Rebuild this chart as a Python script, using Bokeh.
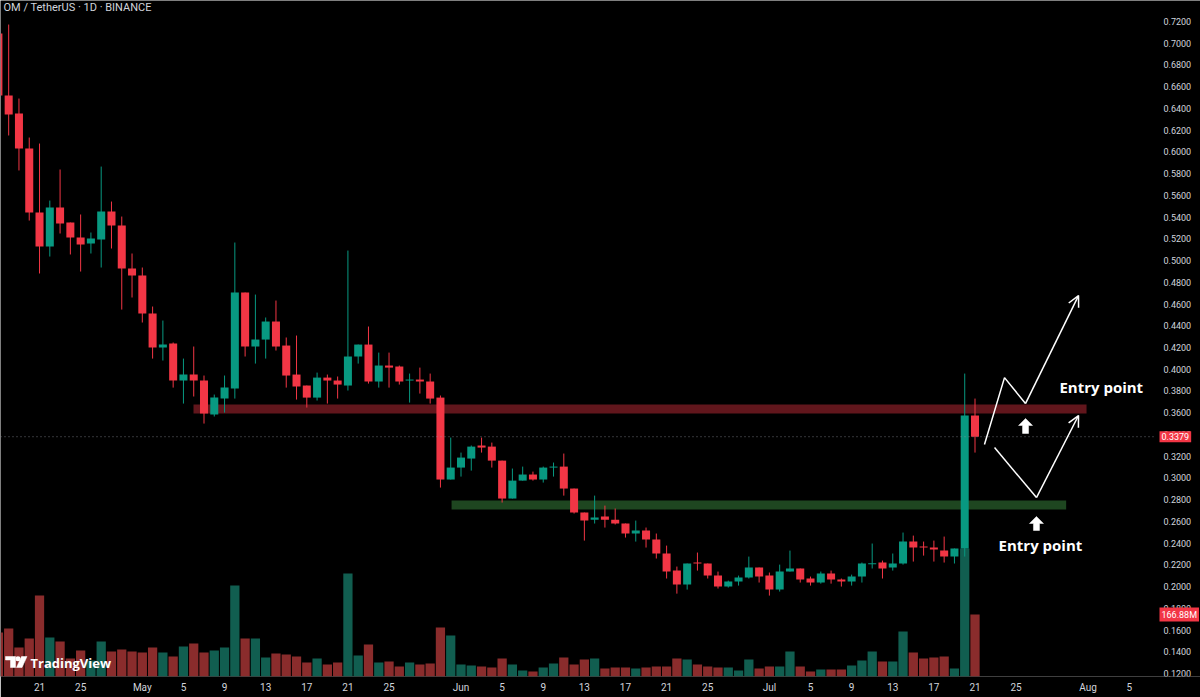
import numpy as np
import pandas as pd
from bokeh.plotting import figure
from bokeh.models import (Range1d, FixedTicker, PrintfTickFormatter, Label,
                          Arrow, OpenHead, ColumnDataSource)
from bokeh.embed import file_html
from bokeh.resources import INLINE

# ---------------- data ----------------
first_date = "2025-04-17"
opens = [0.7090, 0.6519, 0.6353, 0.6031, 0.5442, 0.5129, 0.5488, 0.5350, 0.5212, 0.5157,
         0.5194, 0.5451, 0.5322, 0.4927, 0.4862, 0.4512, 0.4200, 0.4236, 0.3896, 0.3951,
         0.3896, 0.3583, 0.3730, 0.3822, 0.4706, 0.4209, 0.4273, 0.4439, 0.4218, 0.3951,
         0.3850, 0.3739, 0.3923, 0.3896, 0.3850, 0.4117, 0.4227, 0.3887, 0.4034, 0.4025,
         0.3896, 0.3905, 0.3887, 0.3739, 0.2985, 0.3095, 0.3178, 0.3298, 0.3288, 0.3159,
         0.2810, 0.2975, 0.3031, 0.2985, 0.3095, 0.3104, 0.2902, 0.2681, 0.2616, 0.2644,
         0.2616, 0.2580, 0.2488, 0.2515, 0.2432, 0.2304, 0.2147, 0.2018, 0.2221, 0.2212,
         0.2101, 0.2000, 0.2046, 0.2083, 0.2175, 0.2101, 0.1972, 0.2138, 0.2166, 0.2074,
         0.2037, 0.2120, 0.2064, 0.2046, 0.2092, 0.2207, 0.2221, 0.2175, 0.2212, 0.2414,
         0.2368, 0.2359, 0.2331, 0.2276, 0.2350, 0.3574]
highs = [0.7117, 0.7172, 0.6491, 0.6132, 0.6077, 0.5552, 0.5838, 0.5350, 0.5424, 0.5258,
         0.5865, 0.5543, 0.5405, 0.5065, 0.4936, 0.4577, 0.4448, 0.4246, 0.4098, 0.4209,
         0.3942, 0.3767, 0.3942, 0.5166, 0.4706, 0.4687, 0.4476, 0.4632, 0.4292, 0.4310,
         0.3850, 0.3969, 0.3951, 0.3933, 0.5092, 0.4227, 0.4393, 0.4153, 0.4153, 0.4034,
         0.3960, 0.4015, 0.3960, 0.3758, 0.3371, 0.3233, 0.3298, 0.3371, 0.3325, 0.3159,
         0.3086, 0.3104, 0.3058, 0.3104, 0.3141, 0.3224, 0.2902, 0.2681, 0.2837, 0.2745,
         0.2718, 0.2580, 0.2607, 0.2543, 0.2488, 0.2377, 0.2184, 0.2212, 0.2313, 0.2212,
         0.2138, 0.2055, 0.2101, 0.2276, 0.2175, 0.2129, 0.2202, 0.2331, 0.2166, 0.2092,
         0.2138, 0.2147, 0.2074, 0.2110, 0.2221, 0.2396, 0.2239, 0.2304, 0.2497, 0.2469,
         0.2414, 0.2423, 0.2460, 0.2350, 0.3960, 0.3730]
lows = [0.6491, 0.6151, 0.5829, 0.5368, 0.4881, 0.5037, 0.5249, 0.5056, 0.4899, 0.5065,
        0.4936, 0.5111, 0.4549, 0.4660, 0.4430, 0.4098, 0.4080, 0.3831, 0.3684, 0.3749,
        0.3500, 0.3565, 0.3601, 0.3730, 0.4117, 0.4052, 0.4098, 0.4172, 0.3831, 0.3721,
        0.3647, 0.3712, 0.3684, 0.3730, 0.3804, 0.4052, 0.3868, 0.3831, 0.3831, 0.3859,
        0.3693, 0.3776, 0.3684, 0.2911, 0.2985, 0.3012, 0.3067, 0.3233, 0.3095, 0.2773,
        0.2810, 0.2975, 0.2975, 0.2957, 0.3012, 0.2837, 0.2672, 0.2423, 0.2580, 0.2543,
        0.2571, 0.2451, 0.2414, 0.2359, 0.2258, 0.2074, 0.1935, 0.1972, 0.2147, 0.2074,
        0.1982, 0.1991, 0.2009, 0.2074, 0.2037, 0.1917, 0.1954, 0.2138, 0.2037, 0.2009,
        0.2027, 0.2027, 0.2000, 0.2009, 0.2037, 0.2166, 0.2074, 0.2147, 0.2202, 0.2230,
        0.2285, 0.2230, 0.2221, 0.2212, 0.2276, 0.3233]
closes = [0.6519, 0.6344, 0.6031, 0.5442, 0.5129, 0.5488, 0.5341, 0.5212, 0.5148, 0.5203,
          0.5451, 0.5322, 0.4927, 0.4862, 0.4512, 0.4200, 0.4227, 0.3896, 0.3951, 0.3896,
          0.3592, 0.3739, 0.3831, 0.4706, 0.4209, 0.4273, 0.4439, 0.4209, 0.3942, 0.3841,
          0.3739, 0.3923, 0.3896, 0.3859, 0.4117, 0.4227, 0.3887, 0.4034, 0.4015, 0.3887,
          0.3905, 0.3887, 0.3730, 0.2985, 0.3095, 0.3187, 0.3288, 0.3279, 0.3159, 0.2810,
          0.2975, 0.3031, 0.2985, 0.3095, 0.3104, 0.2902, 0.2681, 0.2607, 0.2635, 0.2616,
          0.2580, 0.2488, 0.2515, 0.2432, 0.2304, 0.2138, 0.2018, 0.2212, 0.2212, 0.2101,
          0.2000, 0.2046, 0.2083, 0.2175, 0.2092, 0.1972, 0.2138, 0.2166, 0.2064, 0.2037,
          0.2120, 0.2064, 0.2046, 0.2092, 0.2212, 0.2212, 0.2166, 0.2212, 0.2414, 0.2359,
          0.2359, 0.2340, 0.2276, 0.2350, 0.3574, 0.3379]
volumes_m = [118.4, 129.2, 78.1, 102.3, 218.0, 105.0, 94.2, 48.5, 70.0, 43.1,
             94.2, 67.3, 72.7, 67.3, 64.6, 78.1, 64.6, 53.8, 80.8, 88.8,
             64.6, 70.0, 78.1, 245.0, 102.3, 102.3, 51.1, 61.9, 59.2, 53.8,
             37.7, 48.5, 32.3, 37.7, 277.3, 56.5, 86.1, 37.7, 40.4, 26.9,
             37.7, 32.3, 35.0, 131.9, 110.4, 32.3, 29.6, 26.9, 24.2, 48.5,
             32.3, 16.2, 13.5, 24.2, 35.0, 51.1, 32.3, 45.8, 48.5, 21.5,
             24.2, 24.2, 21.5, 24.2, 26.9, 26.9, 48.5, 45.8, 32.3, 26.9,
             24.2, 24.2, 16.2, 45.8, 21.5, 26.9, 26.9, 67.3, 26.9, 13.5,
             18.8, 18.8, 18.8, 29.6, 43.1, 67.3, 40.4, 40.4, 121.1, 64.6,
             48.5, 51.1, 53.8, 21.5, 344.5, 166.88]

price_ticks = [0.12, 0.14, 0.16, 0.18, 0.20, 0.22, 0.24, 0.26, 0.28, 0.30, 0.32,
               0.34, 0.36, 0.38, 0.40, 0.42, 0.44, 0.46, 0.48, 0.50, 0.52, 0.54,
               0.56, 0.58, 0.60, 0.62, 0.64, 0.66, 0.68, 0.70, 0.72, 0.74]
date_ticks = ["2025-04-17", "2025-04-21", "2025-04-25", "2025-05-01", "2025-05-05",
              "2025-05-09", "2025-05-13", "2025-05-17", "2025-05-21", "2025-05-25",
              "2025-06-01", "2025-06-05", "2025-06-09", "2025-06-13", "2025-06-17",
              "2025-06-21", "2025-06-25", "2025-07-01", "2025-07-05", "2025-07-09",
              "2025-07-13", "2025-07-17", "2025-07-21", "2025-07-25", "2025-08-01",
              "2025-08-05"]
date_tick_labels = ["17", "21", "25", "May", "5", "9", "13", "17", "21", "25", "Jun",
                    "5", "9", "13", "17", "21", "25", "Jul", "5", "9", "13",
                    "17", "21", "25", "Aug", "5"]

title_text = "OM / TetherUS · 1D · BINANCE"
last_price = 0.3379
last_price_label = "0.3379"
last_volume_label = "166.88M"

# drawings (TradingView annotations), in time / price
zone_start = ["2025-05-05 23:30", "2025-05-31 02:00"]
zone_end = ["2025-07-31 20:25", "2025-07-29 20:50"]
zone_low = [0.3593, 0.2709]
zone_high = [0.3675, 0.2792]
zone_colors = ["#f23645", "#4caf50"]

path_a_time = ["2025-07-21 22:05", "2025-07-23 20:53", "2025-07-25 21:50", "2025-07-31 01:41"]
path_a_price = [0.3307, 0.3923, 0.3684, 0.4678]
path_b_time = ["2025-07-22 21:36", "2025-07-26 23:31", "2025-07-31 01:41"]
path_b_price = [0.3279, 0.2819, 0.3574]

entry_arrow_time = ["2025-07-25 22:00", "2025-07-26 23:30"]
entry_arrow_tip = [0.3547, 0.2645]
entry_arrow_base = [0.3409, 0.2516]

entry_text = ["Entry point", "Entry point"]
entry_text_time = ["2025-07-29 05:00", "2025-07-23 07:00"]
entry_text_price = [0.3832, 0.2378]

# ---------------- styling / geometry ----------------
UP, DOWN = "#089981", "#f23645"
VOL_UP, VOL_DOWN = "#115e50", "#8a2c2c"
TXT = "#d1d4dc"
DAY_MS = 86400000.0
FRAME_W, FRAME_H = 1200, 676


def ms(t):
    return pd.Timestamp(t).value / 1e6


base_ms = ms(first_date)
x0 = base_ms + (2.1 / 10.28) * DAY_MS
x1 = base_ms + (1202.1 / 10.28) * DAY_MS
y_top, y_bot = 0.739325, 0.117236
ms_per_px = (x1 - x0) / FRAME_W
price_per_px = (y_top - y_bot) / FRAME_H
vol_top = FRAME_H / 0.3715


def X(px):  # picture pixel -> data x
    return x0 + px * ms_per_px


def Y(py):  # picture pixel -> data y
    return y_top - py * price_per_px


dates = pd.date_range(first_date, periods=len(opens), freq="D")
o, h, l, c = map(np.array, (opens, highs, lows, closes))
v = np.array(volumes_m)
is_up = c >= o
top = np.maximum(o, c)
bot = np.minimum(o, c)
min_body = 1.0 * price_per_px
thin = (top - bot) < min_body
mid = (top + bot) / 2
top = np.where(thin, mid + min_body / 2, top)
bot = np.where(thin, mid - min_body / 2, bot)

src = ColumnDataSource(dict(
    date=dates, high=h, low=l, top=top, bot=bot, vol=v,
    color=[UP if u else DOWN for u in is_up],
    vcolor=[VOL_UP if u else VOL_DOWN for u in is_up],
))

p = figure(frame_width=FRAME_W, frame_height=FRAME_H, x_axis_type="datetime",
           y_axis_location="right",
           x_range=Range1d(x0, x1), y_range=Range1d(y_bot, y_top),
           toolbar_location=None, output_backend="svg",
           background_fill_color="black", border_fill_color="black",
           outline_line_color=None, min_border_left=0, min_border_top=0,
           min_border_right=0, min_border_bottom=21)
p.extra_y_ranges = {"vol": Range1d(0, vol_top)}
p.grid.visible = False

# volume
p.vbar(x="date", top="vol", bottom=0, width=0.9 * DAY_MS, fill_color="vcolor",
       line_color=None, y_range_name="vol", source=src)

# zones
p.quad(left=[ms(t) for t in zone_start], right=[ms(t) for t in zone_end],
       bottom=zone_low, top=zone_high, fill_color=zone_colors, fill_alpha=0.4,
       line_color=None)

# candles
p.segment(x0="date", y0="low", x1="date", y1="high", line_color="color",
          line_width=1, source=src)
p.vbar(x="date", top="top", bottom="bot", width=0.78 * DAY_MS, fill_color="color",
       line_color=None, source=src)

# last price line (stops at the price scale)
p.segment(x0=[x0], x1=[X(1153)], y0=[last_price], y1=[last_price],
          line_color="#9598a1", line_dash="1 3", line_width=1, line_alpha=0.7)

# drawn paths with arrow heads
for times, prices in ((path_a_time, path_a_price), (path_b_time, path_b_price)):
    xs = [ms(t) for t in times]
    p.line(xs[:-1], prices[:-1], line_color="white", line_width=1.5)
    p.add_layout(Arrow(end=OpenHead(size=11, line_color="white", line_width=1.5),
                       x_start=xs[-2], y_start=prices[-2], x_end=xs[-1], y_end=prices[-1],
                       line_color="white", line_width=1.5))

# block up arrows
axs, ays = [], []
hw, sw, hh = 7 * ms_per_px, 3 * ms_per_px, 7 * price_per_px
for t, tip, b in zip(entry_arrow_time, entry_arrow_tip, entry_arrow_base):
    xc = ms(t)
    axs.append([xc - hw, xc, xc + hw, xc + sw, xc + sw, xc - sw, xc - sw])
    ays.append([tip - hh, tip, tip - hh, tip - hh, b, b, tip - hh])
p.patches(axs, ays, fill_color="white", line_color="white", line_width=0.5)

for txt, t, pr in zip(entry_text, entry_text_time, entry_text_price):
    p.add_layout(Label(x=ms(t), y=pr, text=txt, text_color="white",
                       text_font="Open Sans", text_font_style="bold",
                       text_font_size="15px", text_baseline="middle", text_align="left"))

# title
p.add_layout(Label(x=X(3), y=Y(7), text=title_text, text_color=TXT,
                   text_font="Roboto", text_font_size="11px", text_baseline="middle"))

# TradingView logo + text
p.patches([[X(5), X(15), X(15), X(10), X(10), X(5)],
           [X(21), X(26.5), X(21.5), X(16)]],
          [[Y(656), Y(656), Y(667), Y(667), Y(659.5), Y(659.5)],
           [Y(656), Y(656), Y(667), Y(667)]],
          fill_color="white", line_color="white", line_width=0.5)
p.scatter([X(17.5)], [Y(658.3)], size=5, fill_color="white", line_color=None)
p.add_layout(Label(x=X(30), y=Y(662), text="TradingView", text_color="white",
                   text_font="Open Sans", text_font_style="bold", text_font_size="13px",
                   text_baseline="middle"))

# value boxes on the price scale
p.add_layout(Label(x=X(1159), y=last_price, text=last_price_label,
                   text_color="white", text_font="Roboto", text_font_size="9px",
                   text_baseline="middle", background_fill_color=DOWN, padding=2))
p.add_layout(Label(x=X(1159), y=volumes_m[-1], y_range_name="vol",
                   text=last_volume_label, text_color="white", text_font="Roboto",
                   text_font_size="9px", text_baseline="middle",
                   background_fill_color=DOWN, padding=2))

# axes
tick_ms = [ms(t) for t in date_ticks]
p.xaxis.ticker = FixedTicker(ticks=tick_ms)
p.xaxis.major_label_overrides = {t: lab for t, lab in zip(tick_ms, date_tick_labels)}
p.yaxis.ticker = FixedTicker(ticks=price_ticks)
p.yaxis.formatter = PrintfTickFormatter(format="%.4f")
p.yaxis.fixed_location = X(1152)
for ax in (p.xaxis, p.yaxis):
    ax.axis_line_color = None
    ax.major_tick_line_color = None
    ax.minor_tick_line_color = None
    ax.major_tick_out = 0
    ax.major_tick_in = 0
    ax.minor_tick_out = 0
    ax.minor_tick_in = 0
    ax.major_label_text_color = TXT
    ax.major_label_text_font = "Roboto"
p.xaxis.major_label_text_font_size = "10px"
p.xaxis.major_label_standoff = 5
p.yaxis.major_label_text_font_size = "9px"
p.yaxis.major_label_standoff = 11

open("out.html", "w").write(file_html(p, INLINE))
